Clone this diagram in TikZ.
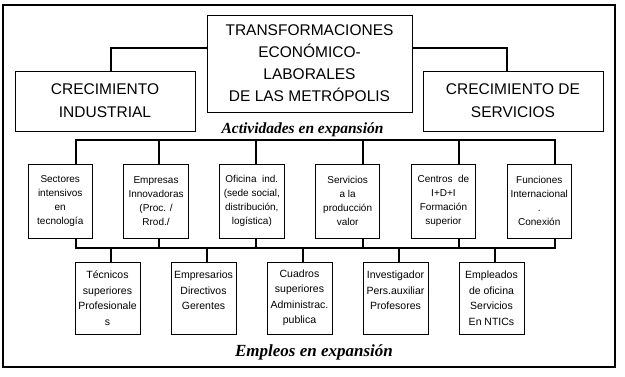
\documentclass[tikz,border=0pt]{standalone}
\usepackage{fontspec}
\setmainfont{Liberation Sans}
\newfontfamily\timesfont{Liberation Serif}
\usetikzlibrary{positioning}

\begin{document}
\begin{tikzpicture}[
  x=1pt,y=-1pt,
  bigbox/.style={draw,line width=0.9pt,outer sep=0pt,inner sep=0pt,align=center,font=\fontsize{15.5}{23}\selectfont},
  actbox/.style={draw,line width=0.9pt,outer sep=0pt,inner sep=0pt,minimum width=64.5pt,minimum height=74pt,align=center,font=\fontsize{10}{14}\selectfont},
  empbox/.style={draw,line width=0.9pt,outer sep=0pt,inner sep=0pt,minimum width=65pt,minimum height=72pt,align=center,font=\fontsize{10.5}{15.5}\selectfont},
  conn/.style={line width=2pt},
  lbl/.style={anchor=base,inner sep=0pt}
]
\useasboundingbox (0,0) rectangle (625,376);
\draw[line width=1.2pt] (3,5) rectangle (615,367);

\node[bigbox,minimum width=205pt,minimum height=97pt,font=\fontsize{15.5}{22}\selectfont] (trans) at (309.5,63.5) {TRANSFORMACIONES\\ECONÓMICO-\\LABORALES\\DE LAS METRÓPOLIS};
\node[bigbox,minimum width=180pt,minimum height=60pt] (indus) at (105,101) {CRECIMIENTO\\INDUSTRIAL};
\node[bigbox,minimum width=180pt,minimum height=60pt] (servi) at (513,101) {CRECIMIENTO DE\\SERVICIOS};
\draw[conn] ([yshift=15.5pt]trans.west) -| ([xshift=6pt]indus.north);
\draw[conn] ([yshift=15.5pt]trans.east) -| ([xshift=-6pt]servi.north);

\node[lbl,font=\timesfont\bfseries\itshape\fontsize{15.5}{18}\selectfont] (activ) at (302.5,133) {Actividades en expansión};

\node[actbox] (sect) at (60.25,201) {Sectores\\intensivos\\en\\tecnología};
\node[actbox,right=31.3pt of sect] (innov) {Empresas\\Innovadoras\\(Proc. /\\Rrod./};
\node[actbox,right=31.3pt of innov] (ofic) {Oficina\ \ ind.\\(sede social,\\distribución,\\logística)};
\node[actbox,right=31.3pt of ofic] (servp) {Servicios\\a la\\producción\\valor};
\node[actbox,right=31.3pt of servp] (centr) {Centros\ \ de\\I+D+I\\Formación\\superior};
\node[actbox,right=31.3pt of centr] (func) {Funciones\\Internacional\\.\\Conexión};

\node[empbox] (tecn) at (107.5,298) {Técnicos\\superiores\\Profesionale\\s};
\node[empbox,right=31pt of tecn] (empre) {Empresarios\\Directivos\\Gerentes\\~};
\node[empbox,right=31pt of empre] (cuadr) {Cuadros\\superiores\\Administrac.\\publica};
\node[empbox,right=31pt of cuadr] (invest) {Investigador\\Pers.auxiliar\\Profesores\\~};
\node[empbox,right=31pt of invest] (emple) {Empleados\\de oficina\\Servicios\\En NTICs};

% bar above the activities
\draw[conn] ([xshift=16pt]sect.north) -- ++(0pt,24pt) -| ([xshift=16pt]func.north);
\draw[conn] ([xshift=3pt]innov.north) -- ++(0pt,24pt);
\draw[conn] ([xshift=4pt]ofic.north) -- ++(0pt,24pt);
\draw[conn] ([xshift=15pt]servp.north) -- ++(0pt,24pt);
\draw[conn] ([xshift=15.5pt]centr.north) -- ++(0pt,24pt);
% bar below the activities
\draw[conn] ([xshift=16pt]sect.south) -- ++(0pt,-10pt) -| ([xshift=16pt]func.south);
\draw[conn] ([xshift=3pt]innov.south) -- ++(0pt,-10pt);
\draw[conn] ([xshift=4pt]ofic.south) -- ++(0pt,-10pt);
\draw[conn] ([xshift=15pt]servp.south) -- ++(0pt,-10pt);
\draw[conn] ([xshift=15.5pt]centr.south) -- ++(0pt,-10pt);
% drops to the jobs
\draw[conn] ([xshift=3.5pt]tecn.north) -- ++(0pt,14pt);
\draw[conn] ([xshift=3.5pt]empre.north) -- ++(0pt,14pt);
\draw[conn] ([xshift=3.5pt]cuadr.north) -- ++(0pt,14pt);
\draw[conn] ([xshift=3.5pt]invest.north) -- ++(0pt,14pt);
\draw[conn] ([xshift=3.5pt]emple.north) -- ++(0pt,14pt);

\node[lbl,font=\timesfont\bfseries\itshape\fontsize{17}{20}\selectfont] (emplo) at (314,356) {Empleos en expansión};
\end{tikzpicture}
\end{document}
